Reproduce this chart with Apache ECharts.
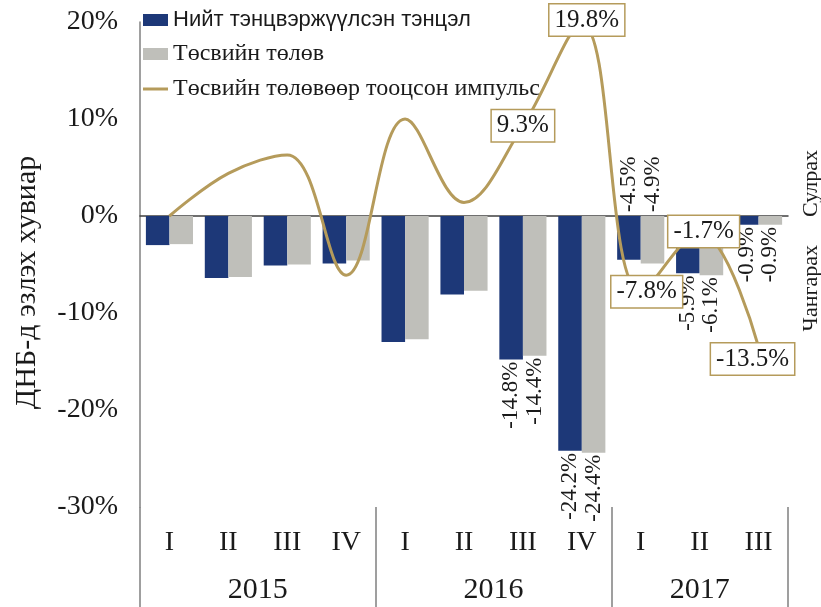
<!DOCTYPE html>
<html>
<head>
<meta charset="utf-8">
<script src="https://cdn.jsdelivr.net/npm/echarts@6/dist/echarts.min.js"></script>
<style>
  html, body { margin: 0; padding: 0; background: #fff; }
  #chart { width: 821px; height: 607px; }
</style>
</head>
<body>
<div id="chart"></div>
<script>
const quarters = ['I', 'II', 'III', 'IV', 'I', 'II', 'III', 'IV', 'I', 'II', 'III'];
const years = ['2015', '2016', '2017'];
const yearCenters = [2, 6, 9.5];
const yearBounds = [0, 4, 8, 11];

const seriesNames = [
  'Нийт тэнцвэржүүлсэн тэнцэл',
  'Төсвийн төлөв',
  'Төсвийн төлөвөөр тооцсон импульс'
];
const balance = [-3.0, -6.4, -5.1, -4.9, -13.0, -8.1, -14.8, -24.2, -4.5, -5.9, -0.9];
const budget = [-2.9, -6.3, -5.0, -4.6, -12.7, -7.7, -14.4, -24.4, -4.9, -6.1, -0.9];
const impulse = [0.0, 4.4, 6.3, -6.1, 10.0, 1.4, 9.3, 19.8, -7.8, -1.7, -13.5];

const barLabelBelow = [6, 7, 9, 10];
const barLabelAbove = [8];
const lineLabelled = [6, 7, 8, 9, 10];

const serif = 'Liberation Serif';
const BLUE = '#1d3878';
const GRAY = '#bfbfba';
const GOLD = '#b59b5b';
const INK = '#1a1a1a';

const chart = echarts.init(document.getElementById('chart'));

const pct = (p) => p.value.toFixed(1) + '%';

const barData = (arr) => arr.map((v, i) => {
  if (barLabelBelow.includes(i)) {
    return { value: v, label: { show: true, position: 'bottom', distance: 2 } };
  }
  if (barLabelAbove.includes(i)) {
    return { value: v, label: { show: true, position: 'top', distance: 4, align: 'left' } };
  }
  return v;
});

const barLabel = {
  show: false,
  rotate: 90,
  align: 'right',
  verticalAlign: 'middle',
  fontFamily: serif,
  fontSize: 23,
  color: INK,
  formatter: pct
};

// label boxes nudged a little, like in the original
const labelOffsets = { 7: [5, -4], 8: [6, 0], 9: [4, -1], 10: [-6, 12] };

const lineData = impulse.map((v, i) => {
  if (!lineLabelled.includes(i)) return v;
  const item = { value: v, label: { show: true } };
  if (labelOffsets[i]) item.label.offset = labelOffsets[i];
  return item;
});

const option = {
  animation: false,
  grid: { left: 140, right: 33, top: 22, bottom: 100 },
  legend: {
    orient: 'vertical',
    left: 143,
    top: 9,
    padding: 0,
    itemWidth: 25,
    itemHeight: 12,
    itemGap: 11,
    data: [
      { name: seriesNames[0], icon: 'rect' },
      { name: seriesNames[1], icon: 'rect' },
      { name: seriesNames[2], icon: 'path://M0,0H25V3H0Z' }
    ],
    formatter: (name) => name === seriesNames[0] ? '{a|' + name + '}' : '{b|' + name + '}',
    textStyle: {
      rich: {
        a: { fontFamily: 'Liberation Sans', fontSize: 22, color: INK },
        b: { fontFamily: serif, fontSize: 24, color: INK }
      }
    }
  },
  xAxis: [
    {
      type: 'category',
      data: quarters,
      axisLine: { onZero: true, lineStyle: { color: '#404040', width: 1.5 } },
      axisTick: { show: false },
      axisLabel: { show: false }
    },
    {
      type: 'category',
      data: quarters,
      position: 'bottom',
      axisLine: { show: false, onZero: false },
      axisTick: { show: false },
      axisLabel: { margin: 22, fontFamily: serif, fontSize: 28, color: INK }
    },
    {
      type: 'value',
      min: 0,
      max: 11,
      position: 'bottom',
      axisLine: { show: false, onZero: false },
      splitLine: { show: false },
      axisTick: {
        show: true,
        customValues: yearBounds,
        length: 102,
        lineStyle: { color: '#808080', width: 1.5 }
      },
      axisLabel: {
        customValues: yearCenters,
        margin: 68,
        fontFamily: serif,
        fontSize: 30,
        color: INK,
        formatter: (v) => years[yearCenters.indexOf(v)]
      }
    }
  ],
  yAxis: {
    type: 'value',
    min: -30,
    max: 20,
    interval: 10,
    name: 'ДНБ-д эзлэх хувиар',
    nameLocation: 'middle',
    nameGap: 98,
    nameTextStyle: { fontFamily: serif, fontSize: 30, color: INK, padding: [0, 36, 0, 0] },
    axisLine: { show: true, lineStyle: { color: '#808080', width: 1.5 } },
    axisTick: { show: false },
    splitLine: { show: false },
    axisLabel: { formatter: '{value}%', fontFamily: serif, fontSize: 28, color: INK, margin: 22 }
  },
  graphic: [
    {
      type: 'text', left: 800, top: 150, rotation: Math.PI / 2,
      style: { text: 'Сулрах', font: '22px "Liberation Serif"', fill: INK }
    },
    {
      type: 'text', left: 800, top: 245, rotation: Math.PI / 2,
      style: { text: 'Чангарах', font: '22px "Liberation Serif"', fill: INK }
    }
  ],
  series: [
    {
      name: seriesNames[0],
      type: 'bar',
      data: barData(balance),
      itemStyle: { color: BLUE },
      barGap: 0,
      barCategoryGap: '20%',
      label: barLabel
    },
    {
      name: seriesNames[1],
      type: 'bar',
      data: barData(budget),
      itemStyle: { color: GRAY },
      label: barLabel
    },
    {
      name: seriesNames[2],
      type: 'line',
      data: lineData,
      smooth: 0.38,
      symbol: 'circle',
      symbolSize: 1,
      showAllSymbol: true,
      itemStyle: { color: GOLD },
      lineStyle: { color: GOLD, width: 3 },
      z: 5,
      label: {
        show: false,
        position: 'inside',
        formatter: pct,
        fontFamily: serif,
        fontSize: 25,
        color: INK,
        backgroundColor: '#fff',
        borderColor: GOLD,
        borderWidth: 1.5,
        padding: [4, 5, 2, 5]
      }
    }
  ]
};

chart.setOption(option);
</script>
</body>
</html>
